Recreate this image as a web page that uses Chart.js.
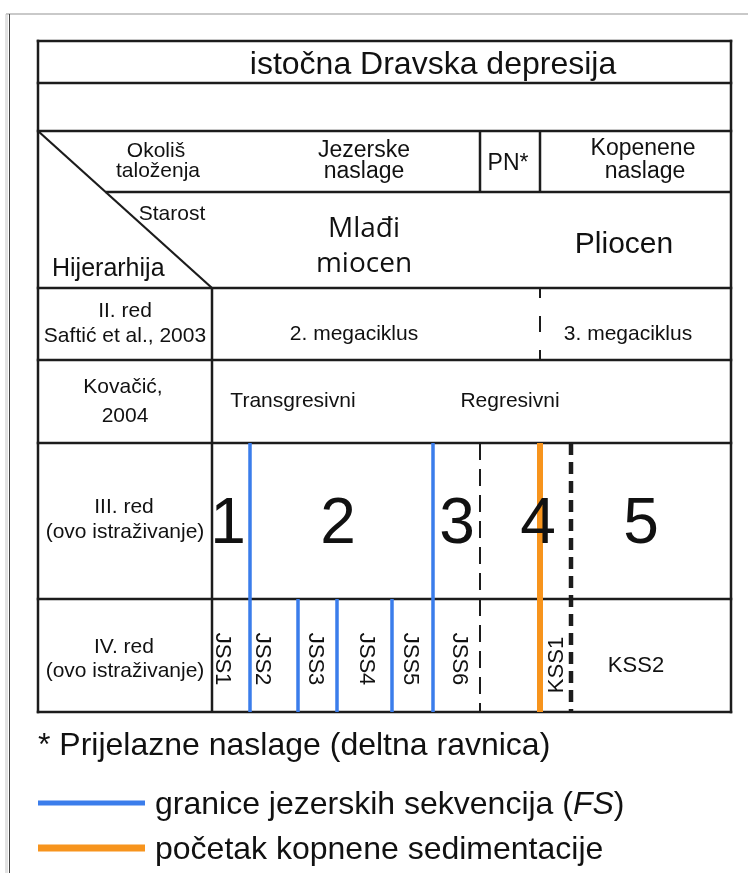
<!DOCTYPE html>
<html>
<head>
<meta charset="utf-8">
<script src="https://cdn.jsdelivr.net/npm/chart.js@4/dist/chart.umd.min.js"></script>
<style>
  html, body { margin: 0; padding: 0; background: #ffffff; }
  canvas { display: block; }
</style>
</head>
<body>
<canvas id="c" width="748" height="873"></canvas>
<script>
// ---------------- DATA ----------------
const title = 'istočna Dravska depresija';
const headerCorner = ['Okoliš', 'taloženja', 'Starost', 'Hijerarhija'];
const environments = [['Jezerske', 'naslage'], ['PN*'], ['Kopenene', 'naslage']];
const ages = [['Mlađi', 'miocen'], ['Pliocen']];
const rowLabels = [
  ['II. red', 'Saftić et al., 2003'],
  ['Kovačić,', '2004'],
  ['III. red', '(ovo istraživanje)'],
  ['IV. red', '(ovo istraživanje)']
];
const megacycles = ['2. megaciklus', '3. megaciklus'];
const trends = ['Transgresivni', 'Regresivni'];
const sequences = ['1', '2', '3', '4', '5'];
const subsequences = ['JSS1', 'JSS2', 'JSS3', 'JSS4', 'JSS5', 'JSS6', 'KSS1', 'KSS2'];
// boundary positions along the (relative) time axis
const fsBoundaries = [250, 433];            // III + IV red, blue
const fsSubBoundaries = [298, 337, 392];    // IV red only, blue
const terrestrialStart = [540];             // orange
const sequenceBoundaryDashed = [480];       // thin dashed
const kssBoundary = [571];                  // thick dashed
const megacycleBoundary = [540];            // dashed in II red
const environmentEdges = [480, 540];        // PN column
const legendItems = ['* Prijelazne naslage (deltna ravnica)', 'granice jezerskih sekvencija (', 'FS', ')', 'početak kopnene sedimentacije'];

// ---------------- LAYOUT ----------------
const L = 38, R = 731;
const rowEdges = [41, 83, 131, 288, 360, 443, 599, 712];
const midEdge = 192;
const colSep = 212;
const BLACK = '#1c1c1c', BLUE = '#3b7deb', ORANGE = '#f7941d';

const datasets = [];
function seg(x1, y1, x2, y2, color, width, dash, order, cap) {
  datasets.push({
    data: [{x: x1, y: y1}, {x: x2, y: y2}],
    showLine: true, pointRadius: 0, pointHoverRadius: 0,
    borderColor: color, borderWidth: width, borderDash: dash || [],
    borderDashOffset: 0,
    borderCapStyle: cap || 'butt', fill: false, tension: 0, order: order
  });
  return datasets[datasets.length - 1];
}

// page frame
seg(6, 14, 748, 14, '#c9c9c9', 2, null, 6);
seg(6.5, 14, 6.5, 873, '#e2e2e2', 3, null, 6);
seg(9.5, 14, 9.5, 873, '#444444', 1, null, 5);

// table horizontal lines
rowEdges.forEach(y => seg(L, y, R, y, BLACK, 2.5, null, 3, 'square'));
// outer verticals
seg(L, rowEdges[0], L, rowEdges[rowEdges.length - 1], BLACK, 2.5, null, 3, 'square');
seg(R, rowEdges[0], R, rowEdges[rowEdges.length - 1], BLACK, 2.5, null, 3, 'square');
// diagonal
const dTop = {x: L, y: 131}, dBot = {x: colSep, y: 288};
seg(dTop.x, dTop.y, dBot.x, dBot.y, BLACK, 2.2, null, 3);
const xAtMid = dTop.x + (midEdge - dTop.y) * (dBot.x - dTop.x) / (dBot.y - dTop.y);
seg(xAtMid, midEdge, R, midEdge, BLACK, 2.5, null, 3);
// label column separator
seg(colSep, 288, colSep, 712, BLACK, 2.5, null, 3);
// PN column
environmentEdges.forEach(x => seg(x, 131, x, midEdge, BLACK, 2.5, null, 3));
// megacycle dashed
const md = seg(megacycleBoundary[0], 288, megacycleBoundary[0], 360, BLACK, 2, [16, 18], 2);
md.borderDashOffset = 6;
// III/IV red boundaries
sequenceBoundaryDashed.forEach(x => seg(x, 443, x, 712, BLACK, 2, [17, 9], 2));
kssBoundary.forEach(x => seg(x, 443, x, 712, BLACK, 4.5, [12, 7], 2));
fsBoundaries.forEach(x => seg(x, 443, x, 712, BLUE, 3.5, null, 1));
fsSubBoundaries.forEach(x => seg(x, 599, x, 712, BLUE, 3.5, null, 1));
terrestrialStart.forEach(x => seg(x, 443, x, 712, ORANGE, 6, null, 1));
// legend lines
seg(38, 803, 145, 803, BLUE, 5, null, 1);
seg(38, 848, 145, 848, ORANGE, 7, null, 1);

// ---------------- TEXT ----------------
const ARIAL = '"Liberation Sans", Arial, sans-serif';
const texts = [
  // [text, x, y, size, opts]
  [title, 433, 74, 32, {}],
  [headerCorner[0], 156, 157, 21, {}],
  [headerCorner[1], 158, 177, 21, {}],
  [headerCorner[2], 172, 220, 21, {}],
  [headerCorner[3], 52, 276, 25, {align: 'left'}],
  [environments[0][0], 364, 157, 23, {}],
  [environments[0][1], 364, 178, 23, {}],
  [environments[1][0], 508, 170, 23, {}],
  [environments[2][0], 643, 155, 23, {}],
  [environments[2][1], 645, 178, 23, {}],
  [ages[0][0], 364, 237, 28, {family: '"Open Sans", sans-serif'}],
  [ages[0][1], 364, 272, 28, {family: '"Open Sans", sans-serif'}],
  [ages[1][0], 624, 253, 30, {}],
  [rowLabels[0][0], 125, 317, 21, {}],
  [rowLabels[0][1], 125, 342, 21, {}],
  [rowLabels[1][0], 123, 393, 21, {}],
  [rowLabels[1][1], 125, 422, 21, {}],
  [rowLabels[2][0], 124, 513, 21, {}],
  [rowLabels[2][1], 125, 538, 21, {}],
  [rowLabels[3][0], 124, 653, 21, {}],
  [rowLabels[3][1], 125, 677, 21, {}],
  [megacycles[0], 354, 340, 21, {}],
  [megacycles[1], 628, 340, 21, {}],
  [trends[0], 293, 407, 21, {}],
  [trends[1], 510, 407, 21, {}],
];
const seqX = [228, 338, 457, 538, 641];
sequences.forEach((s, i) => texts.push([s, seqX[i], 543, 64, {}]));
const subX = [222, 262, 315, 366, 410, 459, 557, 636];
subsequences.forEach((s, i) => {
  if (i < 6) texts.push([s, subX[i], 659, 22, {rotate: Math.PI / 2, baseline: 'middle'}]);
  else if (i === 6) texts.push([s, subX[i], 665, 22, {rotate: -Math.PI / 2, baseline: 'middle'}]);
  else texts.push([s, subX[i], 672, 22, {}]);
});

const textPlugin = {
  id: 'texts',
  beforeDraw(chart) {
    const c = chart.ctx;
    c.save(); c.fillStyle = '#ffffff'; c.fillRect(0, 0, chart.width, chart.height); c.restore();
  },
  afterDatasetsDraw(chart) {
    const c = chart.ctx, xs = chart.scales.x, ys = chart.scales.y;
    function draw(s, x, y, size, o) {
      c.save();
      c.font = `${o.style || 'normal'} ${size}px ${o.family || ARIAL}`;
      c.fillStyle = '#111111';
      c.textAlign = o.align || 'center';
      c.textBaseline = o.baseline || 'alphabetic';
      c.translate(xs.getPixelForValue(x), ys.getPixelForValue(y));
      if (o.rotate) c.rotate(o.rotate);
      c.fillText(s, 0, 0);
      c.restore();
      c.font = `${o.style || 'normal'} ${size}px ${o.family || ARIAL}`;
      return c.measureText(s).width;
    }
    texts.forEach(t => draw(t[0], t[1], t[2], t[3], t[4]));
    // legend
    draw(legendItems[0], 38, 755, 32, {align: 'left'});
    let x = 155;
    x += draw(legendItems[1], x, 814, 32, {align: 'left'});
    x += draw(legendItems[2], x, 814, 32, {align: 'left', style: 'italic'});
    draw(legendItems[3], x, 814, 32, {align: 'left'});
    draw(legendItems[4], 155, 859, 32, {align: 'left'});
  }
};

new Chart(document.getElementById('c'), {
  type: 'scatter',
  data: { datasets },
  options: {
    responsive: false,
    devicePixelRatio: 1,
    animation: false,
    events: [],
    layout: { padding: 0 },
    scales: {
      x: { type: 'linear', min: 0, max: 748, display: false },
      y: { type: 'linear', min: 0, max: 873, reverse: true, display: false }
    },
    plugins: { legend: { display: false }, tooltip: { enabled: false } }
  },
  plugins: [textPlugin]
});
</script>
</body>
</html>
